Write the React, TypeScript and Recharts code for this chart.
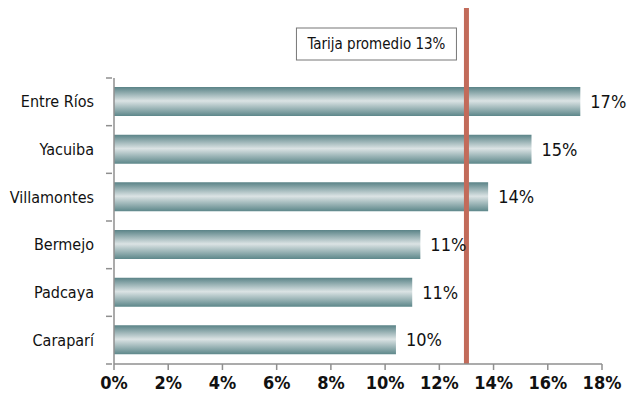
import React from 'react';
import { BarChart, Bar, XAxis, YAxis, LabelList, ReferenceLine } from 'recharts';

const municipios = ['Entre Ríos', 'Yacuiba', 'Villamontes', 'Bermejo', 'Padcaya', 'Caraparí'];
const porcentajes = [17.2, 15.4, 13.8, 11.3, 11.0, 10.4];
const xTicks = [0, 2, 4, 6, 8, 10, 12, 14, 16, 18];
const promedioTarija = 13;
const promedioLabel = 'Tarija promedio 13%';

const data = municipios.map((name, i) => ({ name, value: porcentajes[i] }));

const W = 628;
const H = 401;
const MARGIN = { top: 78, right: 26, bottom: 0, left: 0 };
const Y_WIDTH = 114;
const X_HEIGHT = 37;
const PLOT_H = H - MARGIN.top - MARGIN.bottom - X_HEIGHT;
const BAND = PLOT_H / municipios.length;

const FONT = '"DejaVu Sans Condensed", "Liberation Sans Narrow", "Open Sans", sans-serif';
const AXIS_COLOR = '#8f8f8f';

const CategoryTick = ({ x, y, payload, index }: any) => {
  const top = y - BAND / 2;
  const last = index === municipios.length - 1;
  return (
    <g>
      <line x1={x} x2={x + 6} y1={top} y2={top} stroke={AXIS_COLOR} strokeWidth={1.5} />
      {last && (
        <line x1={x} x2={x + 6} y1={y + BAND / 2} y2={y + BAND / 2} stroke={AXIS_COLOR} strokeWidth={1.5} />
      )}
      <text x={x - 12} y={y} dy="0.35em" textAnchor="end" fontSize={16} fill="#111" fontFamily={FONT}>
        {payload.value}
      </text>
    </g>
  );
};

const PromedioLine = (props: any) => {
  const { x1, y1, y2 } = props;
  const bottom = Math.max(y1, y2);
  const boxW = 160;
  const boxH = 32;
  const boxX = x1 - 10 - boxW;
  const boxY = 28;
  return (
    <g>
      <line x1={x1} x2={x1} y1={8} y2={bottom} stroke="#c26b5a" strokeWidth={5} />
      <rect x={boxX} y={boxY} width={boxW} height={boxH} fill="#fff" stroke="#777" strokeWidth={1} />
      <text
        x={boxX + boxW / 2}
        y={boxY + boxH / 2}
        dy="0.35em"
        textAnchor="middle"
        fontSize={15}
        fill="#111"
        fontFamily={FONT}
      >
        {promedioLabel}
      </text>
    </g>
  );
};

export default function App() {
  return (
    <div style={{ position: 'absolute', left: 0, top: 0, width: W, height: H, background: '#fff' }}>
      <BarChart width={W} height={H} data={data} layout="vertical" margin={MARGIN}>
        <defs>
          <linearGradient id="barGrad" x1="0" y1="0" x2="0" y2="1">
            <stop offset="0%" stopColor="#5a8387" />
            <stop offset="48%" stopColor="#dbe3e4" />
            <stop offset="100%" stopColor="#5d878a" />
          </linearGradient>
        </defs>
        <XAxis
          type="number"
          domain={[0, 18]}
          ticks={xTicks}
          tickFormatter={(v: number) => `${v}%`}
          height={X_HEIGHT}
          axisLine={{ stroke: AXIS_COLOR, strokeWidth: 1.5 }}
          tickLine={{ stroke: AXIS_COLOR, strokeWidth: 1.5 }}
          tickSize={6}
          tickMargin={6}
          interval={0}
          tick={{ fontSize: 18, fontWeight: 'bold', fill: '#111', fontFamily: FONT }}
        />
        <YAxis
          type="category"
          dataKey="name"
          width={Y_WIDTH}
          axisLine={{ stroke: AXIS_COLOR, strokeWidth: 1.5 }}
          tickLine={false}
          interval={0}
          tick={<CategoryTick />}
        />
        <Bar dataKey="value" fill="url(#barGrad)" barSize={29} isAnimationActive={false}>
          <LabelList
            dataKey="value"
            position="right"
            offset={10}
            formatter={(v: number) => `${Math.round(v)}%`}
            style={{ fontSize: 18, fill: '#111', fontFamily: FONT }}
          />
        </Bar>
        <ReferenceLine x={promedioTarija} ifOverflow="visible" shape={<PromedioLine />} />
      </BarChart>
    </div>
  );
}
